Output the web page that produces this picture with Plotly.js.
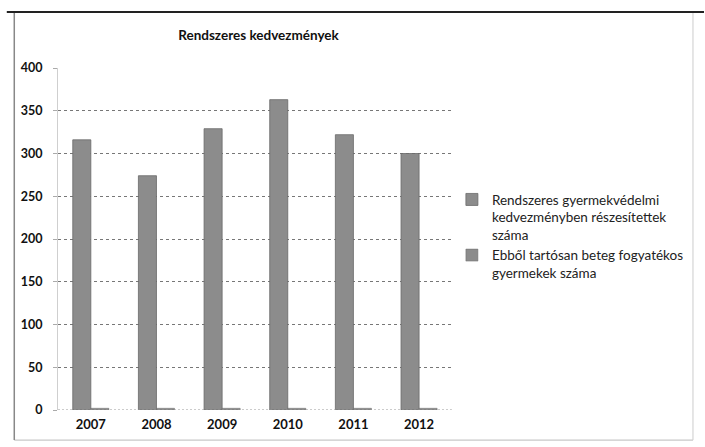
<!DOCTYPE html>
<html>
<head>
<meta charset="utf-8">
<script src="https://cdn.plot.ly/plotly-3.0.1.min.js"></script>
<style>
html,body{margin:0;padding:0;background:#fff;}
#chart{width:705px;height:447px;}
</style>
</head>
<body>
<div id="chart"></div>
<script>
const years = ['2007','2008','2009','2010','2011','2012'];
const series1Name = 'Rendszeres gyermekvédelmi<br>kedvezményben részesítettek<br>száma';
const series2Name = 'Ebből tartósan beteg fogyatékos<br>gyermekek száma';
const series1 = [316, 274, 329, 363, 322, 300];
const series2 = [2, 2, 2, 2, 2, 2];
const yTicks = [0, 50, 100, 150, 200, 250, 300, 350, 400];

const fontFam = 'Lato, "Open Sans", sans-serif';

const traces = [
  {type:'bar', x: years, y: series1, name: series1Name,
   marker:{color:'#8c8c8c', line:{color:'#6a6a6a', width:0.8}}},
  {type:'bar', x: years, y: series2, name: series2Name,
   marker:{color:'#8c8c8c', line:{color:'#6a6a6a', width:0.5}}}
];

const layout = {
  width:705, height:447,
  margin:{l:58, r:250, t:68, b:37},
  paper_bgcolor:'#fff', plot_bgcolor:'#fff',
  barmode:'group', bargap:0.45, bargroupgap:0,
  title:{text:'<b>Rendszeres kedvezmények</b>', x:0.509, xref:'paper', xanchor:'center',
         y:0.92, yref:'container', yanchor:'middle',
         font:{family:fontFam, size:13.5, color:'#111'}},
  xaxis:{type:'category', showgrid:false, zeroline:false, showline:false,
         ticks:'', tickfont:{family:fontFam, size:13, color:'#111', weight:'bold'}, ticklabelstandoff:5},
  yaxis:{range:[0,400], tickvals:yTicks, ticktext:yTicks.map(String),
         showgrid:true, gridcolor:'#777', griddash:'3px,3px', gridwidth:1,
         zeroline:false, showline:true, linecolor:'#cfcfcf', linewidth:1,
         ticks:'outside', ticklen:4, tickcolor:'#aaa', ticklabelstandoff:8,
         tickfont:{family:fontFam, size:12.5, color:'#111', weight:'bold'}},
  showlegend:true,
  legend:{x:0.641, xanchor:'left', y:0.588, yanchor:'top', xref:'container', yref:'container',
          valign:'top',
          font:{family:fontFam, size:13.5, color:'#222'}, tracegroupgap:8,
          itemwidth:30, bgcolor:'rgba(0,0,0,0)'},
  shapes:[
    {type:'line', xref:'paper', yref:'paper', x0:-0.111, x1:1.612, y0:-0.088, y1:-0.088, line:{color:'#bbb', width:1}},
    {type:'line', xref:'paper', yref:'paper', x0:-0.111, x1:-0.111, y0:-0.088, y1:1.164, line:{color:'#888', width:1.5}},
    {type:'line', xref:'paper', yref:'paper', x0:1.612, x1:1.612, y0:-0.088, y1:1.164, line:{color:'#ccc', width:1}},
    {type:'line', xref:'paper', yref:'paper', x0:-0.13, x1:1.64, y0:1.164, y1:1.164, line:{color:'#222', width:2}},
    {type:'line', xref:'paper', yref:'y', x0:0, x1:1, y0:0, y1:0, line:{color:'#999', width:1, dash:'2px,2px'}}
  ]
};

Plotly.newPlot('chart', traces, layout, {displayModeBar:false, staticPlot:true});
</script>
</body>
</html>
